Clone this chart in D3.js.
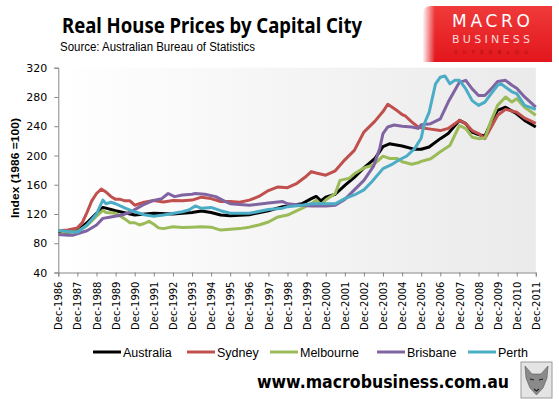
<!DOCTYPE html>
<html>
<head>
<meta charset="utf-8">
<script src="https://cdn.jsdelivr.net/npm/d3@7"></script>
<style>
  body { margin: 0; background: #fff; }
  svg { display: block; }
</style>
</head>
<body>
<div id="chart"></div>
<script>
// real house price index (1986=100) as [month, value]
const australia = [
  ["1986-12",96],["1987-06",95],["1987-12",97],["1988-06",108],["1988-12",121],["1989-04",129],
  ["1989-06",128],["1989-12",124.5],["1990-12",118.6],["1991-12",121],["1992-12",120],["1993-12",122],
  ["1994-06",124],["1994-12",122],["1995-06",118.6],["1995-12",117.5],["1996-12",119],["1997-12",124.5],
  ["1998-09",130],["1998-12",131],["1999-09",134],["2000-03",141],["2000-06",144],["2000-09",138],
  ["2000-12",143],["2001-06",147],["2001-12",159],["2002-06",170],["2002-12",183],["2003-07",196],
  ["2003-12",212],["2004-04",216],["2004-12",213],["2005-08",208.4],["2005-12",208.6],["2006-05",211.6],
  ["2006-12",223],["2007-05",230],["2007-12",248],["2008-04",243.5],["2008-08",232],["2008-12",228.5],
  ["2009-04",226.6],["2009-08",245.7],["2009-12",261.7],["2010-05",266],["2010-12",257],["2011-05",248],
  ["2011-12",239]
];
const sydney = [
  ["1986-12",97],["1987-06",98],["1987-12",101],["1988-03",108],["1988-06",122],["1988-09",138],
  ["1988-12",148],["1989-03",154],["1989-06",150],["1989-09",144],["1989-12",140],["1990-03",140],
  ["1990-06",138],["1990-09",138],["1990-12",132],["1991-03",134],["1991-06",136],["1991-12",138.5],
  ["1992-06",136.5],["1992-12",138.5],["1993-06",138],["1993-12",139],["1994-06",143],["1994-12",141],
  ["1995-06",137],["1995-12",137],["1996-06",136],["1996-12",139],["1997-06",144],["1997-12",152],
  ["1998-06",157],["1998-12",156],["1999-06",162],["1999-12",172],["2000-03",178],["2000-06",176],
  ["2000-12",173],["2001-06",179],["2001-12",194],["2002-06",207],["2002-12",232],["2003-07",247],
  ["2003-12",260],["2004-03",270],["2004-09",261],["2004-12",256],["2005-02",254],["2005-06",246],
  ["2005-10",239],["2005-12",238],["2006-06",236],["2006-12",234],["2007-05",237],["2007-12",248],
  ["2008-04",243.5],["2008-08",234],["2008-12",230],["2009-04",223],["2009-08",239],["2009-12",255],
  ["2010-05",263],["2010-12",259],["2011-05",251],["2011-12",244]
];
const melbourne = [
  ["1986-12",97],["1987-06",95],["1987-12",96],["1988-06",104],["1988-12",117],["1989-04",125],
  ["1989-06",122],["1989-12",121],["1990-06",113],["1990-09",108],["1990-12",108],["1991-03",105],
  ["1991-06",107],["1991-09",110],["1991-12",106],["1992-03",101],["1992-06",100],["1992-12",102.5],
  ["1993-06",101.5],["1993-12",102],["1994-06",102.7],["1994-12",102],["1995-06",98],["1995-12",99],
  ["1996-06",100],["1996-12",102],["1997-06",105],["1997-12",109],["1998-06",116],["1998-12",118.5],
  ["1999-09",127.6],["2000-03",134],["2000-06",139],["2000-09",132],["2000-12",139],["2001-06",148],
  ["2001-09",166],["2002-03",169],["2002-06",175],["2002-12",183],["2003-06",187],["2003-12",199],
  ["2004-04",196],["2004-09",196],["2004-12",191.5],["2005-06",188],["2005-10",190],["2005-12",192],
  ["2006-06",195.6],["2006-12",205],["2007-06",213.6],["2007-12",241],["2008-04",236.7],["2008-08",225],
  ["2008-12",223],["2009-04",224],["2009-08",248],["2009-12",268.5],["2010-05",280],["2010-09",273],
  ["2010-12",277.6],["2011-05",266],["2011-12",255]
];
const brisbane = [
  ["1986-12",92],["1987-06",91],["1987-09",91],["1988-06",97],["1988-12",105],["1989-04",114],
  ["1989-09",116],["1990-04",118.6],["1990-10",123],["1990-12",126],["1991-05",132],["1991-11",138],
  ["1992-05",141],["1992-09",148],["1993-01",143.7],["1993-06",146],["1993-12",147],["1994-02",148],
  ["1994-08",147],["1995-03",143.7],["1995-09",137],["1995-12",134],["1996-12",132],["1997-12",135],
  ["1998-09",137],["1998-12",134],["1999-09",132],["2000-03",131],["2000-12",131],["2001-06",132],
  ["2001-12",140],["2002-06",153],["2002-12",166],["2003-06",185],["2003-10",210],["2003-12",230],
  ["2004-03",239],["2004-07",241.6],["2004-12",240],["2005-06",239],["2005-10",237],["2005-12",242],
  ["2006-06",243.5],["2006-12",250],["2007-05",273],["2007-12",300],["2008-04",302.7],["2008-08",291],
  ["2008-12",282],["2009-04",282],["2009-08",291],["2009-12",301],["2010-05",302.7],["2010-09",296],
  ["2010-12",292],["2011-05",280],["2011-12",266]
];
const perth = [
  ["1986-12",97.6],["1987-06",96],["1987-12",95],["1988-06",105],["1988-12",120],["1989-04",139],
  ["1989-06",134],["1989-09",136],["1989-12",134],["1990-06",128],["1990-12",123],["1991-06",119],
  ["1991-12",117],["1992-06",118.6],["1993-06",123],["1993-10",125.5],["1994-02",131],["1994-06",127.7],
  ["1994-12",129],["1995-06",124.5],["1995-12",121],["1996-12",121],["1997-12",126],["1998-09",128],
  ["1998-12",130],["1999-09",132],["2000-03",134],["2000-12",134],["2001-06",134],["2001-12",141],
  ["2002-06",146],["2002-12",153],["2003-05",164],["2003-12",182],["2004-05",187],["2004-10",193.8],
  ["2005-03",199.3],["2005-08",209.7],["2005-12",224],["2006-02",244],["2006-05",259],["2006-09",298],
  ["2006-12",307],["2007-03",308.6],["2007-06",298],["2007-09",302.7],["2007-12",302.7],["2008-04",291],
  ["2008-08",275],["2008-12",268.5],["2009-04",273],["2009-08",284.5],["2009-12",296],["2010-02",298],
  ["2010-09",287],["2010-12",284.5],["2011-05",268.5],["2011-12",263]
];

const seriesNames = ["Australia", "Sydney", "Melbourne", "Brisbane", "Perth"];
const seriesColors = ["#000000", "#c0504d", "#9bbb59", "#8064a2", "#4bacc6"];
const seriesData = [australia, sydney, melbourne, brisbane, perth];

const yTicks = [40, 80, 120, 160, 200, 240, 280, 320];
const xTickYears = [1986,1987,1988,1989,1990,1991,1992,1993,1994,1995,1996,1997,1998,
  1999,2000,2001,2002,2003,2004,2005,2006,2007,2008,2009,2010,2011];

const W = 559, H = 399;
const plot = {left: 58.3, right: 535.8, top: 67.7, bottom: 272.5};
const parseMonth = d3.timeParse("%Y-%m");

const svg = d3.select("#chart").append("svg")
  .attr("width", W).attr("height", H);

const defs = svg.append("defs");
const bgGrad = defs.append("linearGradient").attr("id", "plotbg")
  .attr("x1", "0%").attr("x2", "100%").attr("y1", "0%").attr("y2", "0%");
bgGrad.append("stop").attr("offset", "0%").attr("stop-color", "#ffffff");
bgGrad.append("stop").attr("offset", "100%").attr("stop-color", "#eaeaea");

const redGrad = defs.append("linearGradient").attr("id", "logored")
  .attr("x1", "0%").attr("x2", "0%").attr("y1", "0%").attr("y2", "100%");
redGrad.append("stop").attr("offset", "0%").attr("stop-color", "#f03a3a");
redGrad.append("stop").attr("offset", "100%").attr("stop-color", "#e2161c");

const tabGrad = defs.append("linearGradient").attr("id", "logotab")
  .attr("x1", "0%").attr("x2", "100%");
tabGrad.append("stop").attr("offset", "0%").attr("stop-color", "#ffffff").attr("stop-opacity", 0.95);
tabGrad.append("stop").attr("offset", "100%").attr("stop-color", "#ffffff").attr("stop-opacity", 0);

// title block
svg.append("text")
  .attr("x", 62).attr("y", 33)
  .attr("textLength", 300).attr("lengthAdjust", "spacingAndGlyphs")
  .style("font-family", "'Noto Sans', 'Liberation Sans', sans-serif")
  .style("font-weight", "bold").style("font-size", "21px")
  .text("Real House Prices by Capital City");

svg.append("text")
  .attr("x", 60).attr("y", 51)
  .attr("textLength", 195).attr("lengthAdjust", "spacingAndGlyphs")
  .style("font-family", "'Liberation Sans', sans-serif")
  .style("font-size", "12px")
  .text("Source: Australian Bureau of Statistics");

// logo
const logo = svg.append("g").attr("transform", "translate(423,6)");
logo.append("path")
  .attr("d", "M8,0 H129 V56 H0 V8 Q0,0 8,0 Z")
  .attr("fill", "url(#logored)");
logo.append("rect").attr("x", 0).attr("y", 0).attr("width", 12).attr("height", 56)
  .attr("fill", "url(#logotab)");
logo.append("text").attr("x", 68).attr("y", 21)
  .attr("text-anchor", "middle").attr("textLength", 78)
  .style("font-family", "'DejaVu Sans', sans-serif").style("font-size", "17px")
  .style("fill", "#ffffff").text("MACRO");
logo.append("text").attr("x", 68).attr("y", 37)
  .attr("text-anchor", "middle").attr("textLength", 78)
  .style("font-family", "'DejaVu Sans', sans-serif").style("font-size", "11px")
  .style("fill", "#ffd6d6").text("BUSINESS");
logo.append("text").attr("x", 68).attr("y", 48)
  .attr("text-anchor", "middle").attr("textLength", 74)
  .style("font-family", "'DejaVu Sans', sans-serif").style("font-size", "5px")
  .style("fill", "#a80c10").text("SUPERBLOG");

// plot area
svg.append("rect")
  .attr("x", plot.left).attr("y", plot.top)
  .attr("width", plot.right - plot.left).attr("height", plot.bottom - plot.top)
  .attr("fill", "url(#plotbg)");

const x = d3.scaleTime()
  .domain([parseMonth("1986-12"), parseMonth("2011-12")])
  .range([plot.left, plot.right]);
const y = d3.scaleLinear()
  .domain([40, 320])
  .range([plot.bottom, plot.top]);

const yAxis = svg.append("g")
  .attr("transform", `translate(${plot.left},0)`)
  .call(d3.axisLeft(y).tickValues(yTicks).tickSize(4).tickPadding(7));
yAxis.selectAll("text")
  .style("font-family", "'DejaVu Sans', sans-serif").style("font-size", "11px").style("fill", "#000");

const xAxis = svg.append("g")
  .attr("transform", `translate(0,${plot.bottom})`)
  .call(d3.axisBottom(x)
    .tickValues(xTickYears.map(yr => parseMonth(yr + "-12")))
    .tickFormat(d3.timeFormat("Dec-%Y"))
    .tickSize(4));
xAxis.selectAll("text")
  .attr("transform", "rotate(-90)")
  .attr("x", -9).attr("y", 0).attr("dy", "0.36em")
  .style("text-anchor", "end")
  .style("font-family", "'DejaVu Sans', sans-serif").style("font-size", "10px").style("fill", "#000");

svg.selectAll(".domain, .tick line").attr("stroke", "#868686");

svg.append("text")
  .attr("transform", `translate(19,${(plot.top + plot.bottom) / 2 - 2}) rotate(-90)`)
  .attr("text-anchor", "middle")
  .attr("textLength", 100).attr("lengthAdjust", "spacingAndGlyphs")
  .style("font-family", "'Liberation Sans', sans-serif")
  .style("font-weight", "bold").style("font-size", "11px")
  .text("Index (1986 =100)");

// lines
const line = d3.line()
  .x(d => x(parseMonth(d[0])))
  .y(d => y(d[1]));

svg.append("g").selectAll("path")
  .data(seriesData)
  .join("path")
  .attr("d", line)
  .attr("fill", "none")
  .attr("stroke", (d, i) => seriesColors[i])
  .attr("stroke-width", 3)
  .attr("stroke-linejoin", "round");

// legend
const legendX = [93, 187, 270, 377, 468];
const legend = svg.append("g").selectAll("g")
  .data(seriesNames)
  .join("g")
  .attr("transform", (d, i) => `translate(${legendX[i]},352)`);
legend.append("line")
  .attr("x1", 0).attr("x2", 28).attr("y1", 0).attr("y2", 0)
  .attr("stroke", (d, i) => seriesColors[i]).attr("stroke-width", 3);
legend.append("text")
  .attr("x", 30).attr("y", 4.5)
  .style("font-family", "'Liberation Sans', sans-serif").style("font-size", "12.5px")
  .text(d => d);

// footer
svg.append("text")
  .attr("x", 257).attr("y", 388)
  .attr("textLength", 252).attr("lengthAdjust", "spacingAndGlyphs")
  .style("font-family", "'DejaVu Sans', sans-serif")
  .style("font-weight", "bold").style("font-size", "17px")
  .text("www.macrobusiness.com.au");

// wolf badge
const badge = svg.append("g").attr("transform", "translate(521,362)");
badge.append("rect").attr("width", 31).attr("height", 36)
  .attr("fill", "#e4e4e4").attr("stroke", "#9a9a9a").attr("stroke-width", 1);
badge.append("path")
  .attr("d", "M4,4 L11,12 L20,12 L27,4 L26,16 L22,26 L15.5,33 L9,26 L5,16 Z")
  .attr("fill", "#8a8a8a").attr("stroke", "#555").attr("stroke-width", 0.6);
badge.append("path")
  .attr("d", "M9,17 L13,18 M18,18 L22,17 M13,27 L15.5,29 L18,27")
  .attr("stroke", "#222").attr("stroke-width", 1.2).attr("fill", "none");
</script>
</body>
</html>
